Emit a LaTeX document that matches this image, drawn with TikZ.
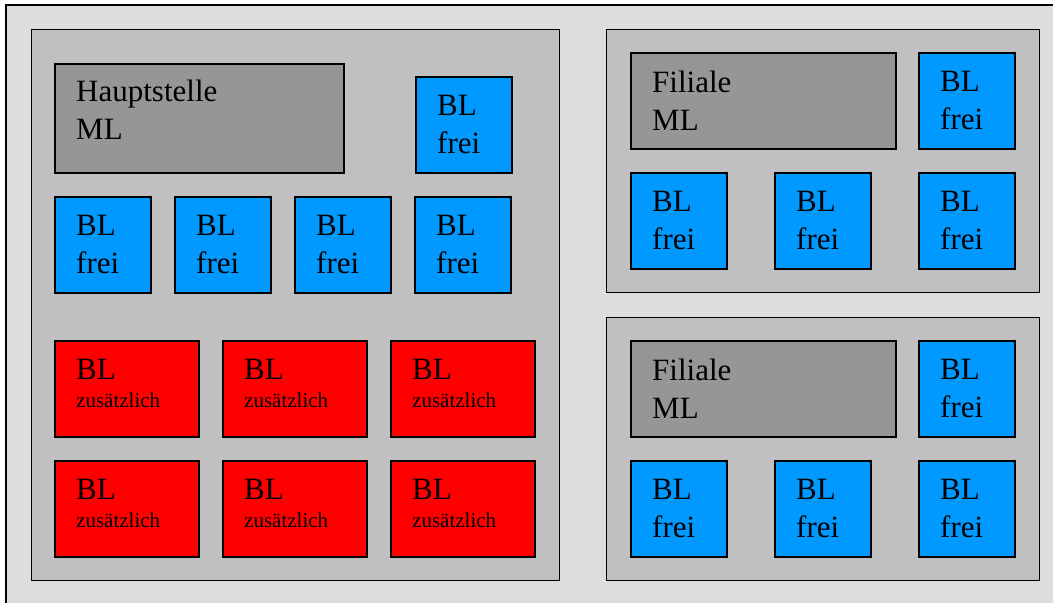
\documentclass[tikz,border=0pt]{standalone}
\usepackage{fontspec}
\setmainfont{Liberation Serif}
\usetikzlibrary{positioning}
\definecolor{hallgrey}{HTML}{DDDDDD}
\definecolor{roomgrey}{HTML}{C0C0C0}
\definecolor{mlgrey}{HTML}{969696}
\definecolor{blblue}{HTML}{0099FF}
\definecolor{blred}{HTML}{FF0000}
\begin{document}
\begin{tikzpicture}[x=1pt, y=-1pt,
    box/.style={draw=black, line width=1.6pt, anchor=north west, inner sep=0pt},
    room/.style={box, fill=roomgrey, line width=1.3pt},
    ml/.style={box, fill=mlgrey},
    frei/.style={box, fill=blblue, minimum width=96pt, minimum height=96pt},
    extra/.style={box, fill=blred, minimum width=144pt, minimum height=96pt},
    txt/.style={inner sep=0pt, align=left, font=\fontsize{31}{38}\selectfont,
                below right=19pt and 22pt of #1.north west}]

    \useasboundingbox (0,0) rectangle (1053,603);
    \fill[white] (0,0) rectangle (1053,603);
    \fill[hallgrey] (6,5) rectangle (1053,603);
    \draw[line width=1.3pt] (6,603) -- (6,5) -- (1053,5);

    % Hauptstelle
    \node[room, minimum width=528pt, minimum height=551pt] (haupt) at (31,29) {};
    \node[ml, minimum width=289pt, minimum height=109pt] (hml) at (54,63) {};
    \node[txt=hml, below right=17pt and 22pt of hml.north west] (hmltxt) {Hauptstelle\\ML};
    \node[frei] (hfrei0) at (415,76) {};
    \node[txt=hfrei0] (hfreitxt0) {BL\\frei};
    \foreach \x [count=\i] in {54,174,294,414} {
        \node[frei] (hfrei\i) at (\x,196) {};
        \node[txt=hfrei\i] (hfreitxt\i) {BL\\frei};
    }
    \foreach \y [count=\j] in {340,460} {
        \foreach \x [count=\i] in {54,222,390} {
            \node[extra] (hplus\j\i) at (\x,\y) {};
            \node[txt=hplus\j\i] (hplustxt\j\i) {BL\\[-10pt]{\fontsize{21}{25}\selectfont zusätzlich}};
        }
    }

    % Filialen
    \foreach \y/\f in {29/a,317/b} {
        \node[room, minimum width=433pt, minimum height=263pt] (fil\f) at (606,\y) {};
        \node[ml, minimum width=265pt, minimum height=96pt] (fml\f) at (630,\y+23) {};
        \node[txt=fml\f] (fmltxt\f) {Filiale\\ML};
        \node[frei] (ffrei\f0) at (918,\y+23) {};
        \node[txt=ffrei\f0] (ffreitxt\f0) {BL\\frei};
        \foreach \x [count=\i] in {630,774,918} {
            \node[frei] (ffrei\f\i) at (\x,\y+143) {};
            \node[txt=ffrei\f\i] (ffreitxt\f\i) {BL\\frei};
        }
    }
\end{tikzpicture}
\end{document}
